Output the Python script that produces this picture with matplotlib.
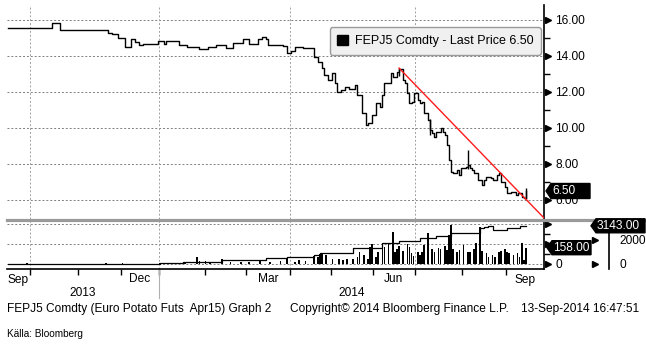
import numpy as np
import pandas as pd
import matplotlib
matplotlib.use("Agg")
import matplotlib.pyplot as plt
from matplotlib.patches import Patch, Polygon
from matplotlib.lines import Line2D
from matplotlib.ticker import FormatStrFormatter
from matplotlib.transforms import IdentityTransform, blended_transform_factory

plt.rcParams['font.family'] = ['Liberation Sans', 'DejaVu Sans']

W, H = 646, 345
FS = 8.6

# exchange sessions, numbered from 16 Sep 2013
HOLIDAYS = ["2013-12-24", "2013-12-25", "2013-12-26", "2013-12-31", "2014-01-01",
            "2014-04-18", "2014-04-21", "2014-05-01", "2014-05-29", "2014-06-09"]
days = pd.bdate_range("2013-09-16", "2014-09-30").difference(pd.to_datetime(HOLIDAYS))

# last price (step changes)
price_session = [0, 21, 25, 48, 50, 53, 56, 59, 61, 63,
                 65, 72, 75, 76, 82, 86, 88, 92, 96, 100,
                 105, 108, 113, 116, 120, 122, 124, 125, 132, 134,
                 136, 138, 142, 147, 149, 151, 152, 154, 156, 157,
                 158, 160, 162, 164, 167, 168, 170, 172, 173, 175,
                 177, 179, 180, 181, 184, 185, 187, 188, 190, 191,
                 192, 193, 194, 195, 197, 198, 199, 200, 202, 203,
                 204, 205, 206, 208, 209, 210, 211, 212, 213, 214,
                 216, 217, 218, 220, 221, 222, 223, 224, 226, 228,
                 229, 230, 232, 233, 235, 236, 237, 239, 240, 242,
                 244, 245, 247, 248, 249]
price_close = [15.57, 15.83, 15.45, 15.30, 15.22, 15.00, 14.50, 14.93, 14.80, 14.60,
               14.69, 14.83, 14.69, 14.83, 14.60, 14.48, 14.52, 14.39, 14.48, 14.61,
               14.43, 14.74, 14.94, 14.67, 14.93, 15.04, 14.93, 14.61, 14.56, 14.18,
               14.30, 14.52, 14.43, 13.96, 13.69, 13.31, 12.94, 12.67, 13.05, 12.50,
               12.02, 12.11, 12.30, 12.15, 12.39, 11.83, 10.81, 10.17, 10.26, 10.72,
               11.37, 11.19, 11.83, 12.48, 13.04, 12.85, 13.13, 13.30, 12.67, 12.48,
               11.93, 11.37, 11.46, 11.93, 11.56, 11.37, 11.46, 10.81, 10.44, 9.89,
               9.70, 9.52, 9.80, 9.98, 9.80, 9.61, 9.06, 8.22, 7.57, 7.48,
               7.67, 7.39, 7.76, 7.85, 7.95, 7.76, 7.67, 7.48, 7.11, 6.83,
               7.11, 7.30, 7.20, 7.11, 7.39, 7.48, 7.02, 6.74, 6.37, 6.46,
               6.28, 6.37, 6.19, 6.09, 6.50]

# intraday ranges on a few sessions
range_session = [188, 203, 221, 249]
range_low = [12.90, 9.60, 7.70, 6.05]
range_high = [13.35, 10.50, 8.78, 6.68]

# trend line drawn from the June high
trend_session = 188
trend_price = 13.33
trend_slope = -0.1195

# daily volume
vol_session = [9, 47, 55, 73, 80, 85, 91, 92, 95, 97,
               103, 107, 112, 116, 121, 126, 131, 134, 138, 140,
               143, 147, 149, 150, 151, 153, 156, 159, 161, 163,
               166, 168, 169, 171, 173, 174, 175, 177, 178, 180,
               181, 183, 185, 186, 187, 188, 190, 192, 193, 194,
               195, 197, 198, 199, 200, 202, 204, 205, 207, 208,
               210, 211, 212, 213, 214, 216, 217, 219, 221, 222,
               224, 225, 227, 228, 230, 231, 233, 234, 236, 237,
               239, 240, 241, 243, 245, 246, 247, 248, 249]
vol_value = [5, 8, 8, 10, 8, 12, 70, 25, 30, 20,
             45, 15, 20, 18, 25, 20, 30, 45, 20, 35,
             25, 80, 70, 100, 108, 85, 50, 45, 40, 50,
             45, 70, 118, 90, 50, 162, 192, 70, 118, 208,
             162, 202, 318, 118, 142, 175, 128, 192, 168, 102,
             80, 118, 90, 118, 185, 308, 142, 118, 158, 142,
             175, 135, 285, 385, 150, 118, 135, 185, 118, 118,
             150, 202, 368, 128, 108, 68, 85, 68, 118, 125,
             142, 118, 102, 85, 102, 68, 202, 35, 158]

# open interest
oi_session = [0, 73, 84, 103, 124, 134, 147, 150, 166, 180,
              188, 198, 206, 213, 227, 229, 231, 233, 240, 246, 249]
oi_value = [0, 67, 150, 290, 433, 567, 708, 850, 1267, 1683,
            1900, 2100, 2292, 2517, 2933, 3017, 3125, 2792, 2933, 3100, 3143]

price_ticks = [6, 8, 10, 12, 14, 16]
vol_ticks = [0, 200, 400]
oi_ticks = [0, 2000]
month_labels = {(2013, 9): "Sep", (2013, 12): "Dec", (2014, 3): "Mar",
                (2014, 6): "Jun", (2014, 9): "Sep"}
footer_left = "FEPJ5 Comdty (Euro Potato Futs  Apr15) Graph 2"
footer_mid = "Copyright\u00a9 2014 Bloomberg Finance L.P."
footer_right = "13-Sep-2014 16:47:51"
source = "K\u00e4lla: Bloomberg"

XLIM = (-0.5, 257.7)


def fig_rect(x0, y0, x1, y1):
    return [x0 / W, 1 - y1 / H, (x1 - x0) / W, (y1 - y0) / H]


fig = plt.figure(figsize=(W / 100, H / 100), dpi=100)
ax = fig.add_axes(fig_rect(7, 5, 544, 219))
axv = fig.add_axes(fig_rect(7, 221, 544, 269))
axo = axv.twinx()

# month boundaries / quarter grid
periods = days.to_period("M")
firsts = [i for i in range(1, len(days)) if periods[i] != periods[i - 1]]
bounds = [i - 0.5 for i in firsts]
quarters = [i - 0.5 for i in firsts if days[i].month in (1, 4, 7, 10)]

grid_kw = dict(color="#808080", lw=0.7, ls=(0, (2, 2)), zorder=0)
vgrid_kw = dict(color="#a0a0a0", lw=0.7, ls=(0, (2, 2)), zorder=0)

# ---- price panel
ax.step(price_session, price_close, where="post", color="black", lw=1.0, zorder=3)
ax.vlines(range_session, range_low, range_high, color="black", lw=1.0, zorder=3)
tx = np.array([trend_session, XLIM[1]])
ax.plot(tx, trend_price + trend_slope * (tx - trend_session), color="#ff1a1a", lw=1.0, zorder=4)
ax.set_xlim(*XLIM)
ax.set_ylim(16 - 199 / 18, 16 + 15 / 18)
for v in price_ticks:
    ax.axhline(v, **grid_kw)
for q in quarters:
    ax.axvline(q, **vgrid_kw)
ax.set_xticks([])
ax.yaxis.tick_right()
ax.set_yticks(price_ticks)
ax.set_yticks([7, 9, 11, 13, 15], minor=True)
ax.yaxis.set_major_formatter(FormatStrFormatter("%.2f"))
ax.tick_params(axis="y", which="major", length=0, pad=8, labelsize=FS)
ax.tick_params(axis="y", which="minor", length=4, width=1, direction="out")
for s in ("left", "top", "bottom"):
    ax.spines[s].set_visible(False)
ax.spines["right"].set_linewidth(1.2)
ax.patch.set_alpha(0)

tri = blended_transform_factory(ax.transAxes, ax.transData)
ax.plot([1 + 3.5 / 537] * len(price_ticks), price_ticks, ">", color="black", ms=5,
        transform=tri, clip_on=False)

leg = ax.legend(handles=[Patch(fc="black", ec="black")],
                labels=["FEPJ5 Comdty - Last Price %.2f" % price_close[-1]],
                loc="upper right", bbox_to_anchor=(0.994, 0.897), borderaxespad=0,
                fancybox=True, facecolor="#f0f0f0", edgecolor="#9a9a9a", framealpha=1,
                handlelength=0.9, handleheight=0.9, handletextpad=0.5, borderpad=0.6,
                fontsize=9)
leg.get_frame().set_linewidth(1.0)

# ---- volume / open interest panel
axv.bar(vol_session, vol_value, width=0.8, color="black", zorder=3)
axv.set_xlim(*XLIM)
axv.set_ylim(-55, 425)
for v in vol_ticks:
    axv.axhline(v, **grid_kw)
for q in quarters:
    axv.axvline(q, **vgrid_kw)
axv.yaxis.tick_right()
axv.set_yticks(vol_ticks)
axv.set_yticklabels(["0", "", ""])
axv.set_yticks([100, 300], minor=True)
axv.tick_params(axis="y", which="major", length=0, pad=8, labelsize=FS)
axv.tick_params(axis="y", which="minor", length=4, width=1, direction="out")
axv.set_xticks(bounds)
axv.set_xticklabels([])
axv.tick_params(axis="x", length=4, width=1, direction="out", color="black")
axv.spines["left"].set_visible(False)
axv.spines["top"].set_visible(False)
axv.spines["right"].set_linewidth(1.2)
axv.spines["bottom"].set_linewidth(1.2)
triv = blended_transform_factory(axv.transAxes, axv.transData)
axv.plot([1 + 3.5 / 537] * len(vol_ticks), vol_ticks, ">", color="black", ms=5,
         transform=triv, clip_on=False)

axo.step(oi_session, oi_value, where="post", color="black", lw=0.9, zorder=4)
axo.set_ylim(-458, 3542)
axo.spines["right"].set_position(("outward", 47))
axo.spines["right"].set_bounds(-458, 3290)
axo.spines["right"].set_linewidth(1.2)
for s in ("left", "top", "bottom"):
    axo.spines[s].set_visible(False)
axo.set_yticks(oi_ticks)
axo.tick_params(axis="y", length=0, pad=7, labelsize=FS)
trio = blended_transform_factory(axo.transAxes, axo.transData)
axo.plot([1 + (47 + 3.5) / 537] * len(oi_ticks), oi_ticks, ">", color="black", ms=5,
         transform=trio, clip_on=False)

# month and year labels under the axis
xt = blended_transform_factory(axv.transData, axv.transAxes)
edges = [XLIM[0]] + bounds + [XLIM[1]]
for k in range(len(edges) - 1):
    d = days[int(np.ceil(edges[k] + 0.5))] if k > 0 else days[0]
    lab = month_labels.get((d.year, d.month))
    if lab:
        axv.text((edges[k] + edges[k + 1]) / 2, -10.5 / 48, lab, transform=xt,
                 ha="center", va="center", fontsize=FS)
year_edge = [b for b, i in zip(bounds, firsts) if days[i].month == 1][0]
axv.text((XLIM[0] + year_edge) / 2, -23.5 / 48, "2013", transform=xt, ha="center", va="center", fontsize=FS)
axv.text((year_edge + XLIM[1]) / 2, -23.5 / 48, "2014", transform=xt, ha="center", va="center", fontsize=FS)
axv.plot([year_edge, year_edge], [0, -29 / 48], color="#b0b0b0", lw=0.8, transform=xt, clip_on=False)

# panel separator
fig.add_artist(Line2D([7 / W, 1], [1 - 220 / H] * 2, color="#9a9a9a", lw=2.3))

fig.canvas.draw()


def value_tag(axis, value, text, x_off, width, half=7.5):
    x = axis.transAxes.transform((1, 0))[0] + x_off
    y = axis.transData.transform((0, value))[1]
    pts = [(x, y), (x + 5, y + half), (x + width, y + half), (x + width, y - half), (x + 5, y - half)]
    fig.add_artist(Polygon(pts, closed=True, transform=IdentityTransform(),
                           fc="black", ec="black", zorder=6))
    fig.text((x + 6) / W, y / H, text, color="white", fontsize=FS, va="center", ha="left", zorder=7)


value_tag(ax, price_close[-1], "%.2f" % price_close[-1], 2, 44)
value_tag(axv, vol_value[-1], "%.2f" % vol_value[-1], 3, 44, half=7)
value_tag(axo, oi_value[-1], "%.2f" % oi_value[-1], 47, 54, half=7)

# footer
fig.text(7 / W, 1 - 309 / H, footer_left, fontsize=FS, va="center")
fig.text(290 / W, 1 - 309 / H, footer_mid, fontsize=FS, va="center")
fig.text(521 / W, 1 - 309 / H, footer_right, fontsize=FS, va="center")
fig.text(7 / W, 1 - 334 / H, source, fontsize=7.2, va="center")

fig.savefig("out.png", dpi=100)
